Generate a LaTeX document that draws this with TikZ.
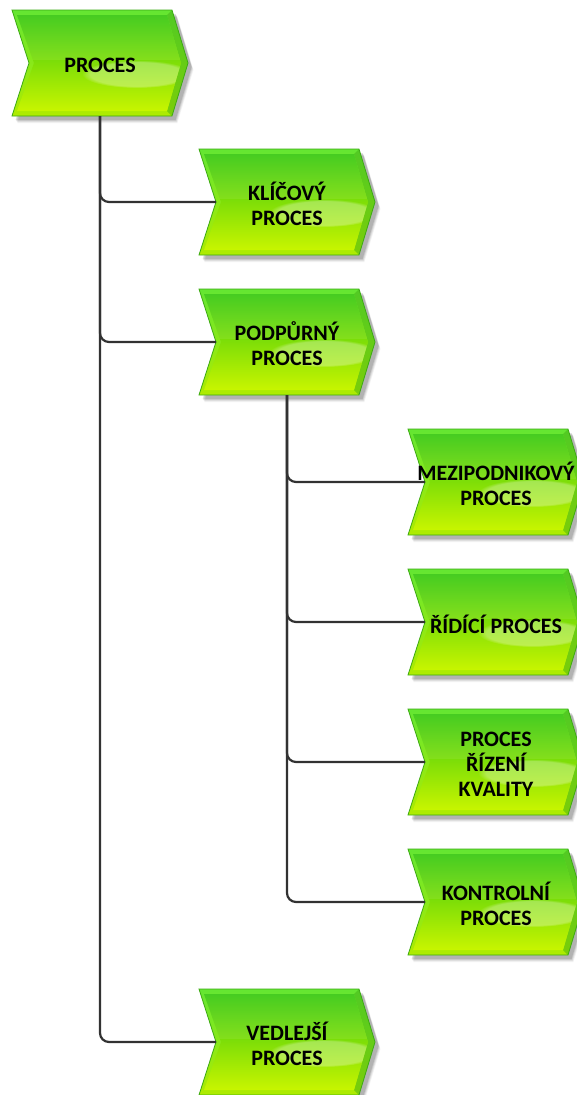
\documentclass[tikz,border=0pt]{standalone}
\usepackage{fontspec}
\setmainfont{Carlito}
\usetikzlibrary{fadings}
\definecolor{rimtop}{RGB}{100,230,50}
\definecolor{rimbot}{RGB}{175,235,0}
\definecolor{rimline}{RGB}{60,170,20}
\definecolor{facetop}{RGB}{55,200,15}
\definecolor{facebot}{RGB}{200,245,0}
\definecolor{conn}{RGB}{50,50,50}
\tikzset{
  lbl/.style={font=\bfseries\fontsize{22}{25}\selectfont, text=black, align=center, inner sep=0pt},
  connector/.style={draw=conn, line width=2.2pt, rounded corners=9pt},
}
% \chev{name}{x0}{y0}{text}
\newcommand{\chev}[4]{%
  \begin{scope}[shift={(#2,#3)}]
    \foreach \k/\o in {1/0.12,2/0.09,3/0.07,4/0.05}{
      \fill[black, opacity=\o] (3+\k*0.6,3+\k) -- (163+\k*0.6,3+\k) -- (179+\k*0.6,56+\k) -- (163+\k*0.6,109+\k) -- (3+\k*0.6,109+\k) -- (20+\k*0.6,56+\k) -- cycle;
    }
    \shade[top color=rimtop, bottom color=rimbot, draw=rimline, line width=0.8pt]
      (0,0) -- (160,0) -- (176,53) -- (160,106) -- (0,106) -- (17,53) -- cycle;
    \fill[rimline, opacity=0.45] (160,0) -- (176,53) -- (160,106) -- (155,101) -- (169,53) -- (155,5) -- cycle;
    \shade[top color=facetop, bottom color=facebot]
      (5,5) -- (155,5) -- (169,53) -- (155,101) -- (5,101) -- (22,53) -- cycle;
    \begin{scope}
      \clip (5,5) -- (155,5) -- (169,53) -- (155,101) -- (5,101) -- (22,53) -- cycle;
      \fill[white, opacity=0.3, path fading=circle with fuzzy edge 15 percent] (125,64) ellipse (55 and 14);
      \fill[white, opacity=0.08] (0,0) rectangle (176,50);
    \end{scope}
    \node[lbl] (#1) at (88,55) {#4};
    \coordinate (#1-in) at (17,53);
    \coordinate (#1-out) at (88,106);
  \end{scope}}
\begin{document}
\begin{tikzpicture}[x=1pt,y=-1pt]
\useasboundingbox (0,0) rectangle (576,1095);
\fill[white] (0,0) rectangle (576,1095);
\chev{proc}{12}{10}{PROCES}
\chev{klic}{199}{149}{KLÍČOVÝ\\PROCES}
\chev{podp}{199}{289}{PODPŮRNÝ\\PROCES}
\chev{mezi}{408}{429}{MEZIPODNIKOVÝ\\PROCES}
\chev{ridi}{408}{569}{ŘÍDÍCÍ PROCES}
\chev{kval}{408}{709}{PROCES\\ŘÍZENÍ\\KVALITY}
\chev{kont}{408}{849}{KONTROLNÍ\\PROCES}
\chev{vedl}{199}{989}{VEDLEJŠÍ\\PROCES}
\draw[connector] (proc-out) |- (klic-in);
\draw[connector] (proc-out) |- (podp-in);
\draw[connector] (proc-out) |- (vedl-in);
\draw[connector] (podp-out) |- (mezi-in);
\draw[connector] (podp-out) |- (ridi-in);
\draw[connector] (podp-out) |- (kval-in);
\draw[connector] (podp-out) |- (kont-in);
\end{tikzpicture}
\end{document}
